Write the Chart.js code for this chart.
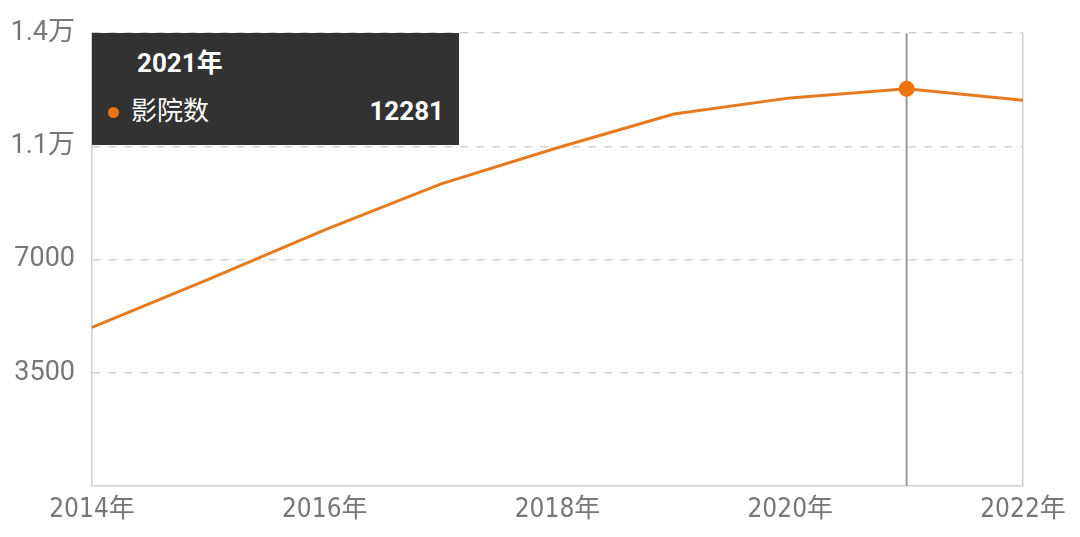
<!DOCTYPE html>
<html>
<head>
<meta charset="utf-8">
<script src="https://cdn.jsdelivr.net/npm/chart.js@4.4.1/dist/chart.umd.min.js"></script>
<style>
  html, body { margin: 0; padding: 0; background: #fff; }
  #wrap { position: relative; width: 1080px; height: 537px; }
  #tip {
    position: absolute; background: #323232; color: #fff;
    font-family: Roboto, "Noto Sans CJK SC", sans-serif;
    box-sizing: border-box; pointer-events: none; display: none;
  }
  #tip .t { position: absolute; left: 45px; top: 17px; font-size: 26px; font-weight: bold; line-height: 1; }
  #tip .dot { position: absolute; left: 16px; top: 74px; width: 11px; height: 11px; border-radius: 50%; }
  #tip .name { position: absolute; left: 39px; top: 65px; font-size: 26px; line-height: 1; }
  #tip .val { position: absolute; right: 15px; top: 65px; font-size: 26px; font-weight: bold; line-height: 1; }
</style>
</head>
<body>
<div id="wrap">
  <canvas id="line-chart" width="1080" height="537"></canvas>
  <div id="tip"></div>
</div>
<script>
var years = ['2014年', '2015年', '2016年', '2017年', '2018年', '2019年', '2020年', '2021年', '2022年'];
var cinemas = [4905, 6390, 7920, 9340, 10460, 11500, 12000, 12281, 11925];
var seriesName = '影院数';
var yTicks = [0, 3500, 7000, 10500, 14000];
var yTickLabels = ['', '3500', '7000', '1.1万', '1.4万'];
var activeIndex = 7;

var orange = '#e67a1e';
var gridGray = '#d0d0d0';

// vertical line at the hovered year
var crossLine = {
    id: 'crossLine',
    beforeDatasetsDraw: function (chart) {
        var x = chart.scales.x.getPixelForValue(activeIndex);
        var area = chart.chartArea;
        var ctx = chart.ctx;
        ctx.save();
        ctx.strokeStyle = '#9a9a9a';
        ctx.lineWidth = 2;
        ctx.beginPath();
        ctx.moveTo(x, area.top);
        ctx.lineTo(x, area.bottom);
        ctx.stroke();
        ctx.restore();
    }
};

function drawTip(context) {
    var chart = context.chart;
    var tooltip = context.tooltip;
    var el = document.getElementById('tip');
    if (tooltip.opacity === 0 || !tooltip.dataPoints || !tooltip.dataPoints.length) {
        el.style.display = 'none';
        return;
    }
    var dp = tooltip.dataPoints[0];
    var area = chart.chartArea;
    el.innerHTML =
        '<div class="t">' + tooltip.title[0] + '</div>' +
        '<div class="dot" style="background:#ee7410"></div>' +
        '<div class="name">' + dp.dataset.label + '</div>' +
        '<div class="val">' + dp.raw + '</div>';
    el.style.left = area.left + 'px';
    el.style.top = area.top + 'px';
    el.style.width = '367px';
    el.style.height = '112px';
    el.style.display = 'block';
}

var chart = new Chart(document.getElementById('line-chart'), {
    type: 'line',
    data: {
        labels: years,
        datasets: [{
            label: seriesName,
            data: cinemas,
            borderColor: orange,
            backgroundColor: orange,
            borderWidth: 3,
            tension: 0,
            pointRadius: 0,
            pointHoverRadius: 8,
            pointHoverBorderWidth: 0,
            pointHoverBackgroundColor: '#ee7410'
        }]
    },
    plugins: [crossLine],
    options: {
        responsive: false,
        animation: false,
        events: [],
        layout: { padding: { top: 32, right: 57, left: 0, bottom: 0 } },
        plugins: {
            legend: { display: false },
            tooltip: { enabled: false, external: drawTip, mode: 'index', intersect: false }
        },
        scales: {
            x: {
                offset: false,
                afterFit: function (scale) { scale.height = 51; },
                grid: {
                    display: true,
                    drawTicks: false,
                    lineWidth: 1.5,
                    color: function (c) { return c.index === years.length - 1 ? gridGray : 'rgba(0,0,0,0)'; }
                },
                border: { display: true, color: gridGray, width: 1.5 },
                ticks: {
                    autoSkip: false,
                    maxRotation: 0,
                    padding: 9,
                    color: '#777777',
                    font: { family: '"Liberation Sans Narrow", "DejaVu Sans Condensed", "Noto Sans CJK SC"', size: 26 },
                    callback: function (v, i) { return i % 2 === 0 ? years[i] : ''; }
                }
            },
            y: {
                min: 0,
                max: 14000,
                afterFit: function (scale) { scale.width = 92; },
                afterBuildTicks: function (scale) {
                    scale.ticks = yTicks.map(function (v) { return { value: v }; });
                },
                grid: {
                    drawTicks: false,
                    lineWidth: 1.5,
                    color: function (c) { return c.tick && c.tick.value === 0 ? 'rgba(0,0,0,0)' : gridGray; }
                },
                border: { display: true, color: gridGray, width: 1.5, dash: [8, 8] },
                ticks: {
                    padding: 17,
                    color: '#777777',
                    font: { family: 'Roboto, "Noto Sans CJK SC"', size: 27 },
                    callback: function (v) { return yTickLabels[yTicks.indexOf(v)]; }
                }
            }
        }
    }
});

chart.setActiveElements([{ datasetIndex: 0, index: activeIndex }]);
chart.tooltip.setActiveElements([{ datasetIndex: 0, index: activeIndex }], { x: 0, y: 0 });
chart.update();
</script>
</body>
</html>
